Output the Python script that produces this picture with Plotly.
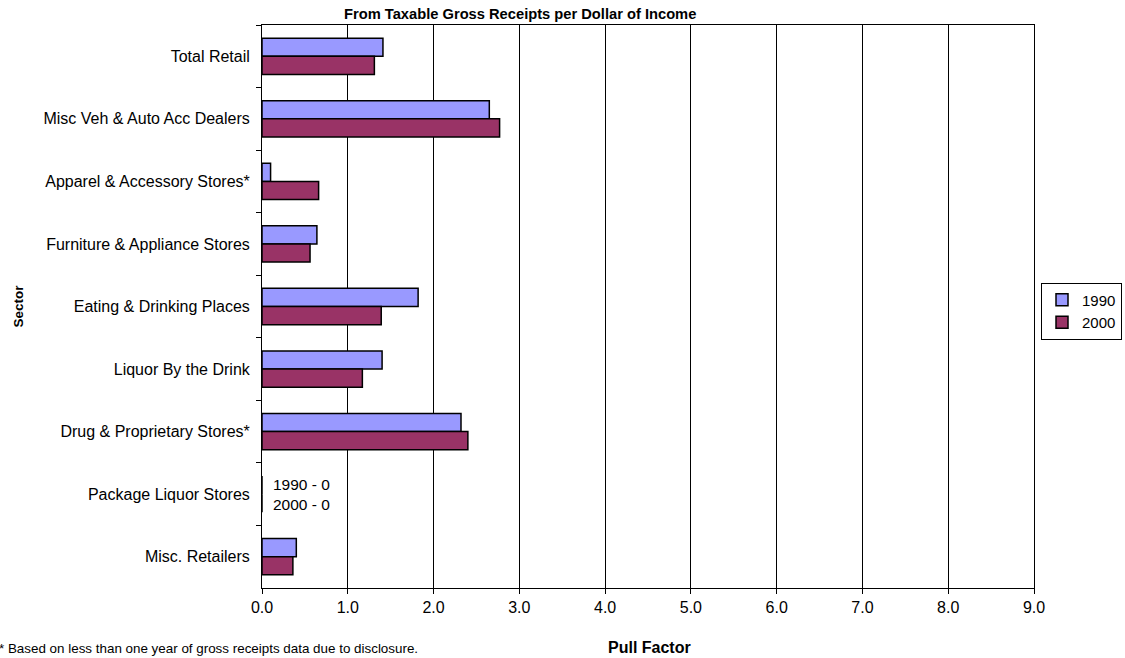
import plotly.graph_objects as go

sectors = [
    "Total Retail",
    "Misc Veh & Auto Acc Dealers",
    "Apparel & Accessory Stores*",
    "Furniture & Appliance Stores",
    "Eating & Drinking Places",
    "Liquor By the Drink",
    "Drug & Proprietary Stores*",
    "Package Liquor Stores",
    "Misc. Retailers",
]
pull_1990 = [1.41, 2.65, 0.10, 0.64, 1.82, 1.40, 2.32, 0.0, 0.40]
pull_2000 = [1.31, 2.77, 0.66, 0.56, 1.39, 1.17, 2.40, 0.0, 0.36]
x_ticks = [0, 1, 2, 3, 4, 5, 6, 7, 8, 9]

FONT = "Liberation Sans, Arial, sans-serif"

# plot-area edges in pixels, used to place titles in paper coordinates
L, R, T, B = 262, 1034, 25, 588
W, H = 1125, 658


def px_x(p):
    return (p - L) / (R - L)


fig = go.Figure()
fig.add_trace(go.Bar(
    y=sectors, x=pull_1990, name="1990", orientation="h",
    marker=dict(color="#9999FF", line=dict(color="black", width=1.5)),
))
fig.add_trace(go.Bar(
    y=sectors, x=pull_2000, name="2000", orientation="h",
    marker=dict(color="#993366", line=dict(color="black", width=1.5)),
))

# zero-value note for the sector with no receipts
pkg = "Package Liquor Stores"
i = sectors.index(pkg)
fig.add_annotation(
    x=0.1, y=pkg, xref="x", yref="y", xanchor="left", align="left",
    text=f"1990 - {pull_1990[i]:.0f}<br>2000 - {pull_2000[i]:.0f}",
    showarrow=False, font=dict(size=15.5, color="black", family=FONT),
)

fig.update_layout(
    width=W, height=H,
    margin=dict(l=L, r=W - R, t=T, b=H - B, autoexpand=False),
    paper_bgcolor="white", plot_bgcolor="white",
    font=dict(family=FONT, size=16, color="black"),
    barmode="group", bargap=0.42, bargroupgap=0.0,
    showlegend=True,
    legend=dict(
        x=px_x(1122), y=(B - 311) / (B - T), xref="paper", yref="paper",
        xanchor="right", yanchor="middle",
        bordercolor="black", borderwidth=1, bgcolor="white",
        font=dict(size=15, family=FONT), traceorder="normal",
        itemwidth=30, tracegroupgap=0,
    ),
    xaxis=dict(
        range=[0, 9], tickvals=x_ticks, tickformat=".1f",
        showgrid=True, gridcolor="black", gridwidth=1,
        showline=True, linecolor="black", linewidth=1, mirror=True,
        ticks="outside", ticklen=5, tickcolor="black",
        zeroline=False, tickfont=dict(size=16),
    ),
    yaxis=dict(
        autorange="reversed", type="category",
        showline=True, linecolor="black", linewidth=1, mirror=True,
        ticks="outside", tickson="boundaries", ticklen=5, tickcolor="black",
        showgrid=False, tickfont=dict(size=16), ticklabelstandoff=8,
    ),
)

fig.add_annotation(
    x=px_x(520), y=1, xref="paper", yref="paper",
    xanchor="center", yanchor="bottom", yshift=1,
    text="<b>From Taxable Gross Receipts per Dollar of Income</b>",
    showarrow=False, font=dict(size=14.7, color="black", family=FONT),
)
fig.add_annotation(
    x=px_x(649), y=0, xref="paper", yref="paper", xanchor="center", yanchor="top",
    yshift=-49, text="<b>Pull Factor</b>", showarrow=False,
    font=dict(size=16, color="black", family=FONT),
)
fig.add_annotation(
    x=px_x(18), y=0.5, xref="paper", yref="paper",
    xanchor="center", yanchor="middle", textangle=-90,
    text="<b>Sector</b>", showarrow=False,
    font=dict(size=13.5, color="black", family=FONT),
)
fig.add_annotation(
    x=px_x(-3), y=0, xref="paper", yref="paper",
    xanchor="left", yanchor="top", yshift=-51,
    text="* Based on less than one year of gross receipts data due to disclosure.",
    showarrow=False, font=dict(size=13.4, color="black", family=FONT),
)

fig.write_html("out.html")
